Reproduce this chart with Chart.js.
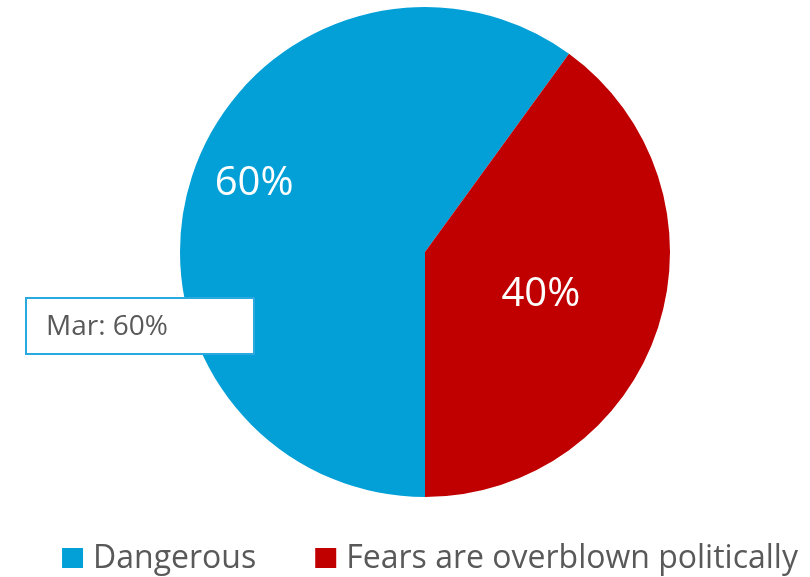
<!DOCTYPE html>
<html>
<head>
<meta charset="utf-8">
<script src="https://cdn.jsdelivr.net/npm/chart.js@4"></script>
<style>
  html, body { margin: 0; padding: 0; background: #fff; }
  #wrap { width: 810px; height: 577px; }
</style>
</head>
<body>
<div id="wrap"><canvas id="chart-canvas"></canvas></div>
<script>
const categories = ["Dangerous", "Fears are overblown politically"];
const values = [60, 40];
const colors = ["#03A0D8", "#C00000"];
const tooltipTitle = "Mar";

Chart.defaults.font.family = "Open Sans";

// value labels inside the slices
const sliceLabels = {
  id: "sliceLabels",
  afterDatasetsDraw(chart, args, opts) {
    const ctx = chart.ctx;
    const meta = chart.getDatasetMeta(0);
    ctx.save();
    ctx.fillStyle = "#fff";
    ctx.font = opts.size + "px Open Sans";
    ctx.textAlign = "center";
    ctx.textBaseline = "alphabetic";
    meta.data.forEach((arc, i) => {
      const p = opts.place[i];
      const mid = (arc.startAngle + arc.endAngle) / 2 + p.da * Math.PI / 180;
      const r = arc.outerRadius * p.r;
      const x = arc.x + Math.cos(mid) * r;
      const y = arc.y + Math.sin(mid) * r;
      ctx.fillText(values[i] + "%", x, y + opts.size * 0.357);
    });
    ctx.restore();
  },
};

// static tooltip-like box and the legend row
const extras = {
  id: "extras",
  afterDraw(chart) {
    const ctx = chart.ctx;
    ctx.save();
    // box
    ctx.fillStyle = "#fff";
    ctx.fillRect(25, 297, 230, 58);
    ctx.strokeStyle = "#2AA8E0";
    ctx.lineWidth = 2;
    ctx.strokeRect(26, 298, 228, 56);
    ctx.fillStyle = "#595959";
    ctx.font = "28px Open Sans";
    ctx.textAlign = "left";
    ctx.textBaseline = "alphabetic";
    ctx.fillText(tooltipTitle + ": " + values[0] + "%", 46, 335);

    // legend
    ctx.font = "32px Open Sans";
    const box = 21, gap = 10, spacing = 59;
    const widths = categories.map((c) => ctx.measureText(c).width);
    let total = 0;
    widths.forEach((w, i) => { total += box + gap + w + (i > 0 ? spacing : 0); });
    let x = 430 - total / 2;
    categories.forEach((c, i) => {
      ctx.fillStyle = colors[i];
      ctx.fillRect(x, 548, box, 20);
      ctx.fillStyle = "#595959";
      ctx.fillText(c, x + box + gap, 568);
      x += box + gap + widths[i] + spacing;
    });
    ctx.restore();
  },
};

new Chart(document.getElementById("chart-canvas"), {
  type: "pie",
  data: {
    labels: categories,
    datasets: [
      {
        data: values,
        backgroundColor: colors,
        borderWidth: 0,
      },
    ],
  },
  options: {
    responsive: true,
    maintainAspectRatio: false,
    animation: false,
    rotation: 180,
    layout: {
      padding: { top: 7, bottom: 80, left: 40, right: 0 },
    },
    plugins: {
      legend: { display: false },
      tooltip: { enabled: false },
      sliceLabels: {
        size: 40,
        place: [
          { r: 0.755, da: 4.5 },
          { r: 0.5, da: 1 },
        ],
      },
    },
  },
  plugins: [sliceLabels, extras],
});
</script>
</body>
</html>
